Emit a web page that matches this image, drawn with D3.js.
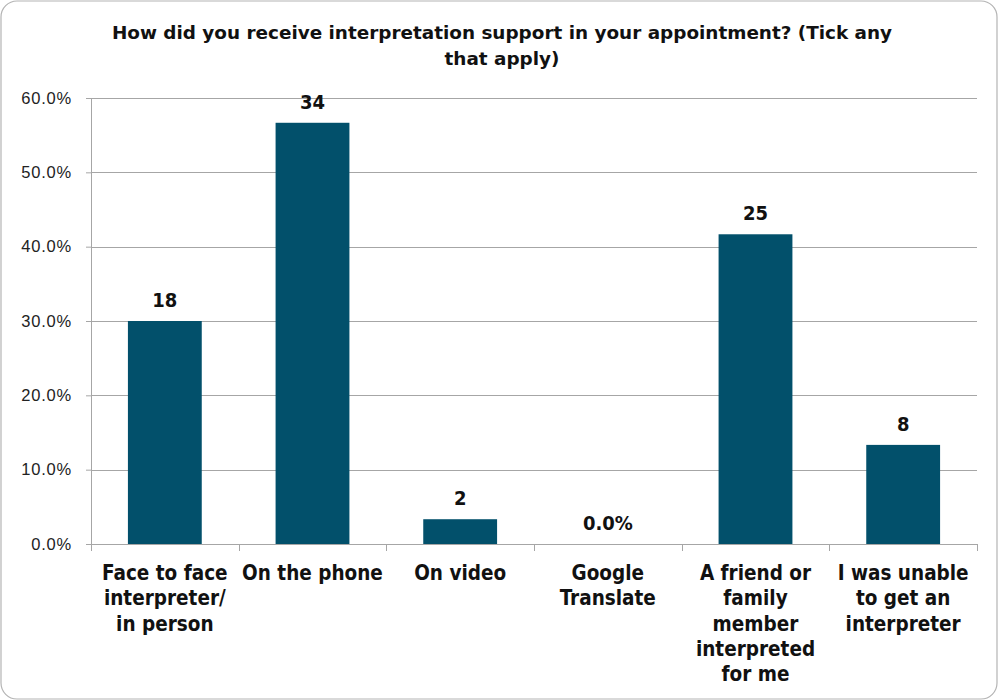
<!DOCTYPE html>
<html>
<head>
<meta charset="utf-8">
<script src="https://cdn.jsdelivr.net/npm/d3@7"></script>
<style>
  html, body { margin: 0; padding: 0; background: #fff; }
</style>
</head>
<body>
<svg id="chart" width="998" height="700"></svg>
<script>
// Survey responses: how interpretation support was received (respondents could tick several)
const categories = [
  ["Face to face", "interpreter/", "in person"],
  ["On the phone"],
  ["On video"],
  ["Google", "Translate"],
  ["A friend or", "family", "member", "interpreted", "for me"],
  ["I was unable", "to get an", "interpreter"]
];
const counts = [18, 34, 2, 0, 25, 8];
const respondents = 60;
const yTicks = [0, 0.1, 0.2, 0.3, 0.4, 0.5, 0.6];
const titleLines = [
  "How did you receive interpretation support in your appointment? (Tick any",
  "that apply)"
];

const svg = d3.select("#chart");
const W = 998, H = 700;
const margin = { left: 91, right: 21, top: 98, bottom: 156 };
const plotW = W - margin.left - margin.right;
const plotH = H - margin.top - margin.bottom;
const labelFont = "'DejaVu Sans Condensed', 'DejaVu Sans', sans-serif";

// Outer frame with rounded corners
svg.append("rect")
  .attr("x", 1).attr("y", 1).attr("width", W - 2).attr("height", H - 2)
  .attr("rx", 16).attr("ry", 16)
  .attr("fill", "#fff").attr("stroke", "#b4b4b4").attr("stroke-width", 1.2);

// Title
svg.append("g").selectAll("text").data(titleLines).join("text")
  .attr("x", 502).attr("y", (d, i) => 39 + i * 26)
  .attr("text-anchor", "middle")
  .attr("font-family", "'DejaVu Sans', sans-serif")
  .attr("font-weight", "bold").attr("font-size", 18.4)
  .attr("fill", "#111")
  .text(d => d);

const g = svg.append("g").attr("transform", `translate(${margin.left},${margin.top})`);

const x = d3.scaleBand().domain(d3.range(categories.length)).range([0, plotW]).paddingInner(0.5).paddingOuter(0.25);
const xb = d3.scaleBand().domain(d3.range(categories.length)).range([0, plotW]);
const y = d3.scaleLinear().domain([0, 0.6]).range([plotH, 0]);

// Horizontal gridlines
g.append("g").selectAll("line").data(yTicks.filter(t => t > 0)).join("line")
  .attr("x1", 0).attr("x2", plotW)
  .attr("y1", d => Math.round(y(d)) + 0.5).attr("y2", d => Math.round(y(d)) + 0.5)
  .attr("stroke", "#a6a6a6").attr("stroke-width", 1);

// Y axis
const yAxis = g.append("g")
  .call(d3.axisLeft(y).tickValues(yTicks).tickFormat(d3.format(".1%")).tickSize(5).tickPadding(14));
yAxis.select(".domain").attr("stroke", "#a6a6a6").attr("d", `M0.5,0V${plotH}`);
yAxis.selectAll(".tick line").attr("stroke", "#a6a6a6");
yAxis.selectAll(".tick text")
  .attr("font-family", "'Liberation Sans', 'Open Sans', sans-serif")
  .attr("font-size", 16.5).attr("letter-spacing", 0.8).attr("fill", "#222");

// Bars
g.append("g").selectAll("rect").data(counts).join("rect")
  .attr("x", (d, i) => x(i))
  .attr("width", x.bandwidth())
  .attr("y", d => y(d / respondents))
  .attr("height", d => plotH - y(d / respondents))
  .attr("fill", "#02506b");

// Value labels (count; share shown when nobody chose the option)
g.append("g").selectAll("text").data(counts).join("text")
  .attr("x", (d, i) => x(i) + x.bandwidth() / 2)
  .attr("y", d => y(d / respondents) - 14)
  .attr("text-anchor", "middle")
  .attr("font-family", labelFont)
  .attr("font-weight", "bold").attr("font-size", 20).attr("fill", "#111")
  .text(d => d === 0 ? d3.format(".1%")(d / respondents) : d);

// X axis baseline and category ticks
const xAxis = g.append("g").attr("transform", `translate(0,${plotH})`);
xAxis.append("line").attr("x1", 0).attr("x2", plotW).attr("y1", 0.5).attr("y2", 0.5)
  .attr("stroke", "#a6a6a6");
xAxis.selectAll("line.tk").data(d3.range(categories.length + 1)).join("line")
  .attr("class", "tk")
  .attr("x1", i => Math.round(i * xb.bandwidth()) + 0.5)
  .attr("x2", i => Math.round(i * xb.bandwidth()) + 0.5)
  .attr("y1", 0).attr("y2", 7)
  .attr("stroke", "#a6a6a6");

// Category labels
xAxis.selectAll("text.cat").data(categories).join("text")
  .attr("class", "cat")
  .attr("text-anchor", "middle")
  .attr("font-family", labelFont)
  .attr("font-weight", "bold")
  .attr("font-size", 20.5).attr("fill", "#111")
  .each(function(lines, i) {
    d3.select(this).selectAll("tspan").data(lines).join("tspan")
      .attr("x", xb(i) + xb.bandwidth() / 2)
      .attr("y", (d, k) => 36 + k * 25.3)
      .text(d => d);
  });
</script>
</body>
</html>
